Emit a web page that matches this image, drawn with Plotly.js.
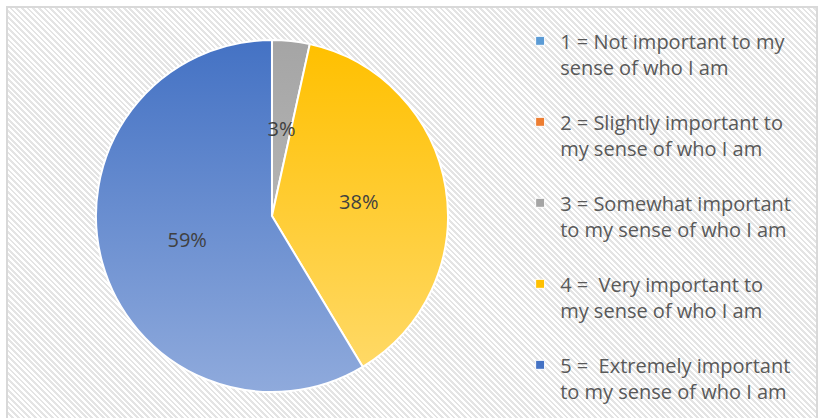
<!DOCTYPE html>
<html>
<head>
<meta charset="utf-8">
<script src="https://cdn.plot.ly/plotly-3.0.1.min.js"></script>
<style>
  html, body { margin: 0; padding: 0; background: #ffffff; width: 823px; height: 418px; overflow: hidden; }
  #frame {
    position: absolute; left: 6px; top: 6px; width: 812px; height: 430px;
    border: 2px solid #d9d9d9; box-sizing: border-box;
    background: repeating-linear-gradient(45deg, #ffffff 0px, #ffffff 2px, #e4e4e4 2px, #e4e4e4 4px);
  }
  #chart { position: absolute; left: 0; top: 0; width: 823px; height: 418px; }
</style>
</head>
<body>
<div id="frame"></div>
<div id="chart"></div>
<script>
// Data (counts giving 3% / 38% / 59%)
const categories = [
  '1 = Not important to my<br>sense of who I am<br> ',
  '2 = Slightly important to<br>my sense of who I am<br> ',
  '3 = Somewhat important<br>to my sense of who I am<br> ',
  '4 =  Very important to<br>my sense of who I am<br> ',
  '5 =  Extremely important<br>to my sense of who I am'
];
const counts = [0, 0, 1, 11, 17];
const colors = ['#5b9bd5', '#ed7d31', '#a5a5a5', '#ffc000', '#4472c4'];
const gradTop = ['#5b9bd5', '#ed7d31', '#a5a5a5', '#ffc000', '#4472c4'];
const gradBottom = ['#9dc3e6', '#f4b183', '#b4b4b4', '#ffd966', '#8faadc'];

const trace = {
  type: 'pie',
  labels: categories,
  values: counts,
  sort: false,
  direction: 'clockwise',
  rotation: 0,
  marker: { colors: colors, line: { color: '#ffffff', width: 2 } },
  texttemplate: counts.map(v => v > 0 ? '%{percent:.0%}' : ''),
  textposition: 'inside',
  insidetextorientation: 'horizontal',
  textfont: { family: 'Open Sans, sans-serif', size: 20, color: '#404040' },
  hoverinfo: 'none',
  domain: { x: [0.1166, 0.5443], y: [0.0622, 0.9043] }
};

const layout = {
  width: 823, height: 418,
  margin: { l: 0, r: 0, t: 0, b: 0 },
  paper_bgcolor: 'rgba(0,0,0,0)',
  plot_bgcolor: 'rgba(0,0,0,0)',
  showlegend: true,
  uniformtext: { minsize: 20, mode: 'show' },
  legend: {
    x: 0.632, xanchor: 'left', y: 0.949, yanchor: 'top',
    valign: 'top',
    bgcolor: 'rgba(0,0,0,0)',
    font: { family: 'Open Sans, sans-serif', size: 20, color: '#595959' },
    traceorder: 'normal'
  }
};

// radius fraction (of pie radius) at which data labels sit, as in the reference
const labelRadiusFrac = 0.5;

Plotly.newPlot('chart', [trace], layout, { staticPlot: true, displayModeBar: false }).then(function (gd) {
  const svg = gd.querySelector('svg.main-svg');
  const defs = svg.querySelector('defs');
  const ns = 'http://www.w3.org/2000/svg';
  gradTop.forEach(function (c, i) {
    const lg = document.createElementNS(ns, 'linearGradient');
    lg.setAttribute('id', 'sliceGrad' + i);
    lg.setAttribute('x1', '0'); lg.setAttribute('y1', '0');
    lg.setAttribute('x2', '0'); lg.setAttribute('y2', '1');
    const s1 = document.createElementNS(ns, 'stop');
    s1.setAttribute('offset', '0'); s1.setAttribute('stop-color', c);
    const s2 = document.createElementNS(ns, 'stop');
    s2.setAttribute('offset', '1'); s2.setAttribute('stop-color', gradBottom[i]);
    lg.appendChild(s1); lg.appendChild(s2);
    defs.appendChild(lg);
  });
  const cd0 = gd.calcdata[0][0];
  const svgRect = svg.getBoundingClientRect();
  const textGroups = [];
  gd.querySelectorAll('g.slice').forEach(function (g) {
    const pt = g.__data__;
    if (!pt) return;
    const path = g.querySelector('path.surface');
    if (path) path.style.fill = 'url(#sliceGrad' + pt.i + ')';
    const tg = g.querySelector('g.slicetext');
    const t = tg ? tg.querySelector('text') : null;
    if (t && pt.pxmid && t.textContent) {
      const rc = t.getBoundingClientRect();
      const curX = rc.left + rc.width / 2 - svgRect.left;
      const curY = rc.top + rc.height / 2 - svgRect.top;
      const tx = cd0.cx + labelRadiusFrac * pt.pxmid[0];
      const ty = cd0.cy + labelRadiusFrac * pt.pxmid[1];
      const prev = t.getAttribute('transform') || '';
      t.setAttribute('transform', 'translate(' + (tx - curX) + ',' + (ty - curY) + ') ' + prev);
      textGroups.push([g, tg]);
    }
  });
  // draw labels above all slices
  textGroups.forEach(function (pair) {
    const g = pair[0], tg = pair[1];
    const holder = document.createElementNS(ns, 'g');
    const tr = g.getAttribute('transform');
    if (tr) holder.setAttribute('transform', tr);
    holder.appendChild(tg);
    g.parentNode.appendChild(holder);
  });
  gd.querySelectorAll('.legendpie').forEach(function (p) {
    p.setAttribute('d', 'M4.5,4.5H-4.5V-4.5H4.5Z');
    p.style.strokeWidth = '1px';
  });
});
</script>
</body>
</html>
